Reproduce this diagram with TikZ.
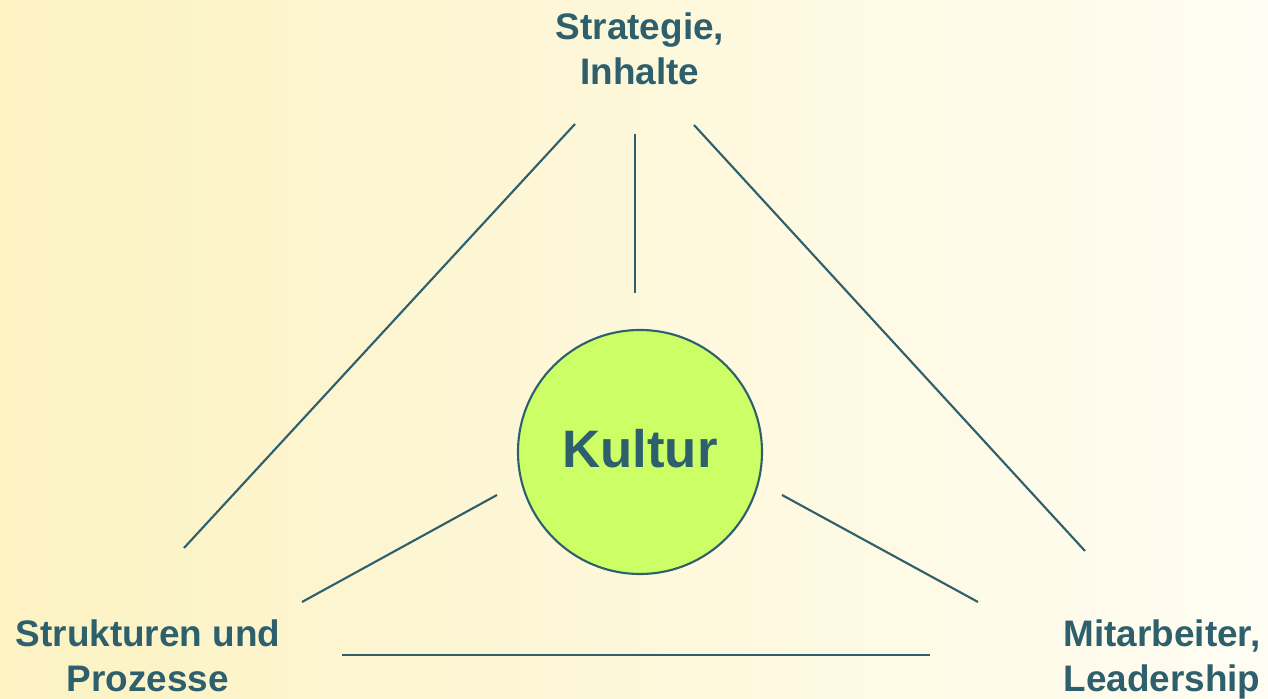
\documentclass[tikz,border=0pt]{standalone}
\usepackage{fontspec}
\setmainfont{Liberation Sans}
\definecolor{tealText}{HTML}{2D5F6C}
\definecolor{limeFill}{HTML}{CCFF66}
\definecolor{paperLeft}{HTML}{FCF2C2}
\definecolor{paperRight}{HTML}{FFFDF3}
\newcommand{\spoke}[2]{%%
  \draw[lineStyle] (#1) -- (#2);
}

\begin{document}
\begin{tikzpicture}[%%
  lineStyle/.style={-,line width=1.2pt,tealText},%%
  labelStyle/.style={inner sep=0pt,align=center,text=tealText,font=\fontsize{21}{26}\selectfont\bfseries},%%
  coreStyle/.style={circle,draw=tealText,line width=1.2pt,fill=limeFill,minimum size=4.88cm,inner sep=0pt,text depth=4.6pt,text=tealText,font=\fontsize{30}{36}\selectfont\bfseries}%%
]
%%
%% The paper with its soft colour run.
\shade[left color=paperLeft,right color=paperRight] (0,0) rectangle (25.36,13.98);
\useasboundingbox (0,0) rectangle (25.36,13.98);
%%
%% The core and the three corners.
\node[coreStyle] (kultur) at (12.8,4.94) {Kultur};
\node[labelStyle,anchor=north] (strategie) at (12.8,13.74) {Strategie,\\Inhalte};
\node[labelStyle,anchor=north] (strukturen) at (2.96,1.6) {Strukturen und\\Prozesse};
\node[labelStyle,anchor=north] (mitarbeiter) at (23.24,1.6) {Mitarbeiter,\\Leadership};
%%
%% End points of the spokes.
\coordinate (topLeftA) at (11.5,11.5);
\coordinate (topLeftB) at (3.68,3.02);
\coordinate (topMidA) at (12.7,11.3);
\coordinate (topMidB) at (12.7,8.12);
\coordinate (topRightA) at (13.88,11.48);
\coordinate (topRightB) at (21.7,2.96);
\coordinate (lowLeftA) at (9.94,4.08);
\coordinate (lowLeftB) at (6.04,1.94);
\coordinate (lowRightA) at (15.64,4.08);
\coordinate (lowRightB) at (19.56,1.94);
\coordinate (baseA) at (6.84,0.88);
\coordinate (baseB) at (18.6,0.88);
%%
%% The triangle and the lines to the core.
\spoke{topLeftA}{topLeftB}
\spoke{topMidA}{topMidB}
\spoke{topRightA}{topRightB}
\spoke{lowLeftA}{lowLeftB}
\spoke{lowRightA}{lowRightB}
\spoke{baseA}{baseB}
\end{tikzpicture}
\end{document}
